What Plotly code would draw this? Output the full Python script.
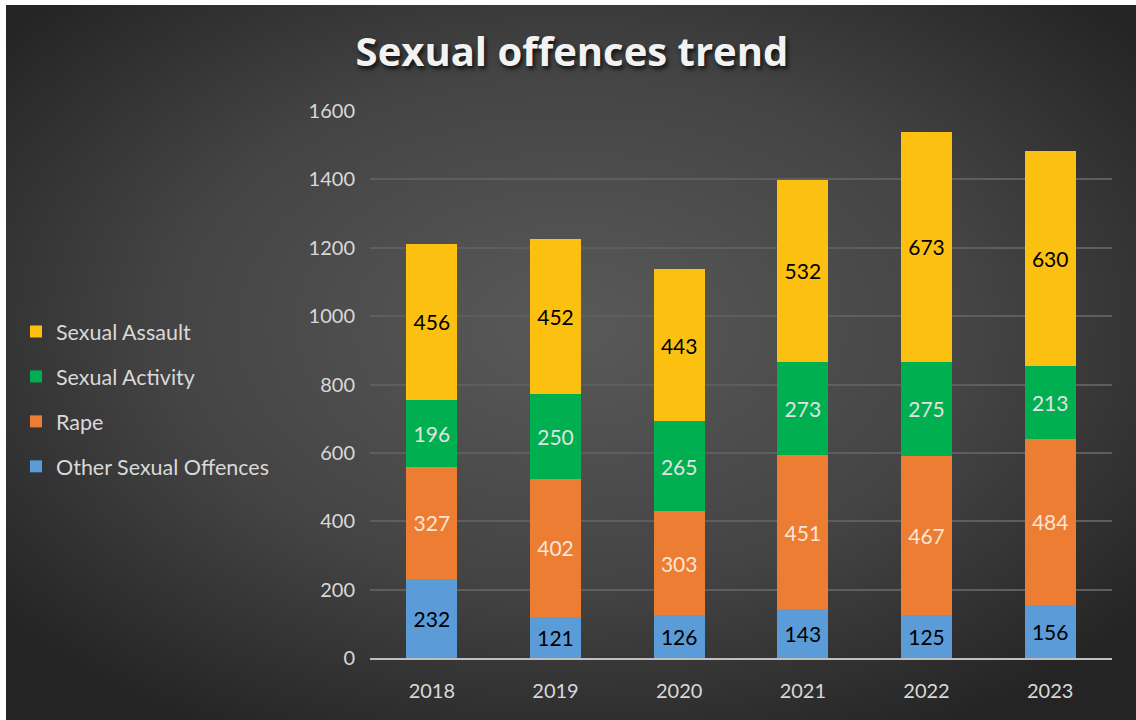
import plotly.graph_objects as go

years = ["2018", "2019", "2020", "2021", "2022", "2023"]
other = [232, 121, 126, 143, 125, 156]
rape = [327, 402, 303, 451, 467, 484]
activity = [196, 250, 265, 273, 275, 213]
assault = [456, 452, 443, 532, 673, 630]

series = [
    ("Other Sexual Offences", other, "#5b9bd8", "#000000"),
    ("Rape", rape, "#ee7d34", "#fbe5d6"),
    ("Sexual Activity", activity, "#00b050", "#e2e2e2"),
    ("Sexual Assault", assault, "#fcc010", "#000000"),
]

W, H = 1136, 720
ml, mr, mt, mb = 370, 24, 111, 62
pw, ph = W - ml - mr, H - mt - mb

# radial background, drawn as an svg picture behind the chart
bg_svg = (
    "<svg xmlns='http://www.w3.org/2000/svg' width='1130' height='715'>"
    "<defs><radialGradient id='g' cx='50%' cy='45%' r='65%'>"
    "<stop offset='0' stop-color='#595959'/>"
    "<stop offset='0.55' stop-color='#444444'/>"
    "<stop offset='1' stop-color='#242424'/>"
    "</radialGradient></defs>"
    "<rect width='1130' height='715' fill='url(#g)'/></svg>"
)
bg_src = "data:image/svg+xml;utf8," + bg_svg.replace("#", "%23").replace("<", "%3C").replace(">", "%3E")

fig = go.Figure()
for i, (name, vals, col, tcol) in enumerate(series):
    fig.add_trace(go.Bar(
        x=years, y=vals, name=name, legendgroup=name,
        legendrank=len(series) - i,  # top segment first in the legend
        marker=dict(color=col, line=dict(width=0)),
        text=vals, textposition="inside", insidetextanchor="middle",
        textfont=dict(size=21, color=tcol, family="Lato"),
        textangle=0,
    ))

fig.update_layout(
    width=W, height=H,
    barmode="stack", bargap=0.59,
    paper_bgcolor="white", plot_bgcolor="rgba(0,0,0,0)",
    margin=dict(l=ml, r=mr, t=mt, b=mb),
    font=dict(family="Lato", color="#d9d9d9"),
    title=dict(
        text="<b>Sexual offences trend</b>",
        x=0.5035, xanchor="center", y=1 - 52 / H, yanchor="middle",
        font=dict(size=40, color="#f2f2f2", family="Open Sans",
                  shadow="2px 3px 4px rgba(0,0,0,0.75)"),
    ),
    legend=dict(
        x=(16 - ml) / pw, xanchor="left", y=(H - mb - 311) / ph, yanchor="top",
        traceorder="grouped", tracegroupgap=14,
        font=dict(size=21.5, color="#d9d9d9"), bgcolor="rgba(0,0,0,0)",
        itemwidth=30,
    ),
    showlegend=True,
    images=[dict(
        source=bg_src, xref="paper", yref="paper",
        x=(6 - ml) / pw, y=(H - mb - 5) / ph,
        sizex=(W - 6) / pw, sizey=(H - 5) / ph,
        xanchor="left", yanchor="top", sizing="stretch", layer="below",
    )],
)
fig.update_yaxes(
    range=[0, 1600], dtick=200, showgrid=True, gridcolor="#5e5e5e", gridwidth=1.5,
    zeroline=False, tickfont=dict(size=20, color="#d9d9d9"), ticklabelstandoff=14,
    showline=False,
)
fig.update_xaxes(
    showline=True, linecolor="#bfbfbf", linewidth=2,
    tickfont=dict(size=20, color="#d9d9d9"), ticklabelstandoff=14,
    showgrid=False,
)

fig.write_html("out.html", config={"displayModeBar": False},
               post_script="document.body.style.margin='0';")
